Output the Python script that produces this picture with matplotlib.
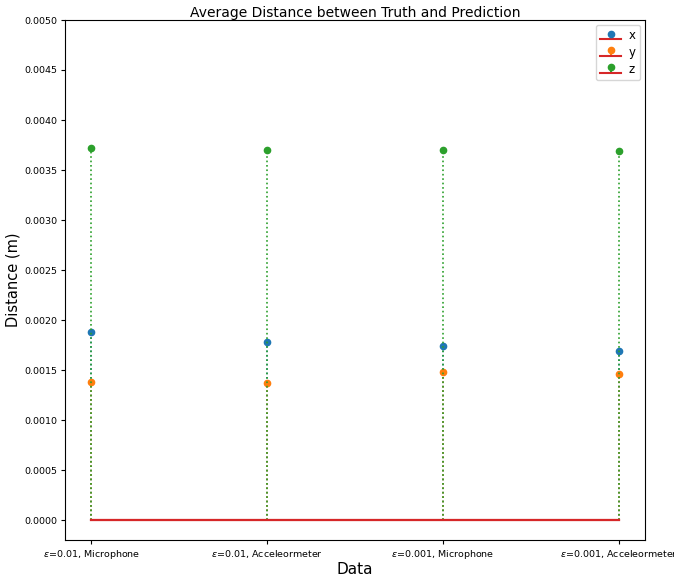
import matplotlib
matplotlib.use("Agg")
from matplotlib import pyplot as plt

# 数据
labels = ['$\\epsilon$=0.01, Microphone', '$\\epsilon$=0.01, Acceleormeter',
          '$\\epsilon$=0.001, Microphone', '$\\epsilon$=0.001, Acceleormeter']
dist_x = [0.00188, 0.00178, 0.00174, 0.00169]
dist_y = [0.00138, 0.00137, 0.00148, 0.00146]
dist_z = [0.00372, 0.00370, 0.00370, 0.00369]

fig = plt.figure(figsize=(6.74, 5.79), dpi=100)
ax = fig.add_axes([65 / 674, 39 / 579, 580 / 674, 520 / 579])

pos = list(range(len(labels)))
for vals, c, name in [(dist_x, 'C0', 'x'), (dist_y, 'C1', 'y'), (dist_z, 'C2', 'z')]:
    m, s, b = ax.stem(pos, vals, linefmt=c + ':', markerfmt=c + 'o', basefmt='C3-', label=name)
    m.set_markersize(4.5)
    s.set_linewidth(1.2)
    b.set_linewidth(1.5)

ax.set_ylim(-0.0002, 0.005)
ax.set_yticks([i * 0.0005 for i in range(11)])
ax.yaxis.set_major_formatter(matplotlib.ticker.FormatStrFormatter('%.4f'))
ax.set_xticks(pos)
ax.set_xticklabels(labels)
ax.tick_params(labelsize=6.8, length=3, pad=2.5)

ax.set_title("Average Distance between Truth and Prediction", fontsize=10, pad=2)
ax.set_xlabel("Data", fontsize=11, labelpad=1)
ax.set_ylabel("Distance (m)", fontsize=10.5, labelpad=3)
ax.legend(fontsize=8.5, loc='upper right', handlelength=1.8, handletextpad=0.6,
          labelspacing=0.3, borderaxespad=0.4)

fig.savefig("out.png")
